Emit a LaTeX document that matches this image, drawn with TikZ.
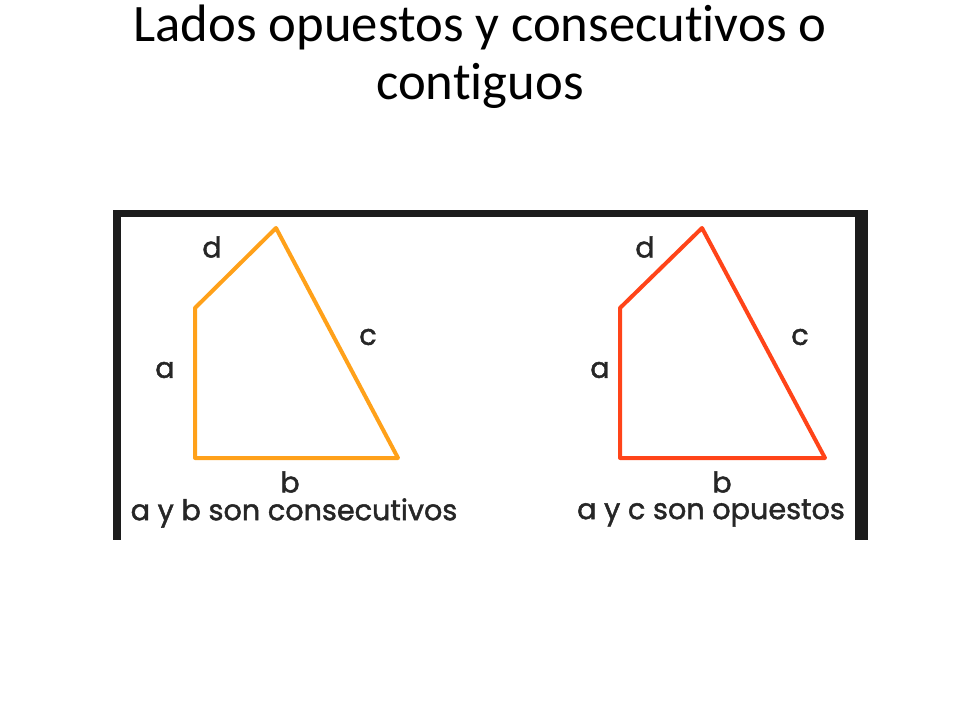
\documentclass[tikz,border=0pt]{standalone}
\usepackage{fontspec}
\setmainfont[Ligatures=NoCommon]{Carlito}
\newfontfamily\geo[FakeBold=1.6]{Poppins}
\usetikzlibrary{positioning}
\definecolor{frameblk}{HTML}{1C1C1C}
\definecolor{consorange}{HTML}{FFA11A}
\definecolor{opred}{HTML}{FF4419}

\begin{document}
\begin{tikzpicture}[x=0.75pt, y=-0.75pt, inner sep=0pt,
  title/.style={font=\fontsize{39.5}{44}\selectfont, anchor=base},
  side/.style={font=\geo\fontsize{21.5}{24}\selectfont, text=black!85},
  quad/.style={line width=3pt, line join=round}]
\useasboundingbox (0,0) rectangle (960,720);
\node[title] (ttl1) at (480,42)  {Lados opuestos y consecutivos o};
\node[title] (ttl2) at (480,100) {contiguos};
% frame of the picture, open at the bottom
\fill[frameblk] (113,210) rectangle (868,217);
\fill[frameblk] (113,210) rectangle (121,540);
\fill[frameblk] (855,210) rectangle (868,540);
% left quadrilateral
\coordinate (LA) at (195,308);
\coordinate (LD) at (276,228);
\coordinate (LC) at (398,458);
\coordinate (LB) at (195,458);
\draw[quad, consorange] (LA) -- (LD) -- (LC) -- (LB) -- cycle;
\node[side] (la) at (165,370) {a};
\node[side] (lb) at (290,482) {b};
\node[side] (lc) at (368,337) {c};
\node[side] (ld) at (212,247) {d};
\node[side] (lcap) at (294,513) {a y b son consecutivos};
% right quadrilateral
\coordinate (RA) at (620,308);
\coordinate (RD) at (702,228);
\coordinate (RC) at (825,458);
\coordinate (RB) at (620,458);
\draw[quad, opred] (RA) -- (RD) -- (RC) -- (RB) -- cycle;
\node[side] (ra) at (600,370) {a};
\node[side] (rb) at (722,482) {b};
\node[side] (rc) at (800,337) {c};
\node[side] (rd) at (645,247) {d};
\node[side] (rcap) at (711,513) {a y c son opuestos};
\end{tikzpicture}
\end{document}
